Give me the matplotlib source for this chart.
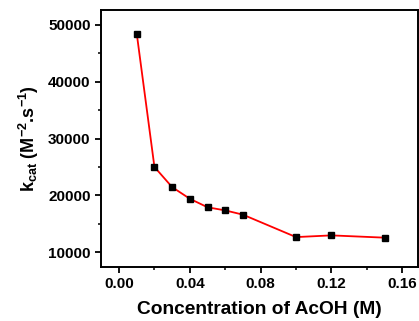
import matplotlib
matplotlib.use("Agg")
import matplotlib.pyplot as plt
from matplotlib.ticker import MultipleLocator

conc = [0.01, 0.02, 0.03, 0.04, 0.05, 0.06, 0.07, 0.10, 0.12, 0.15]
kcat = [48500, 25000, 21450, 19400, 17900, 17350, 16600, 12650, 12950, 12550]

x_ticks = [0.00, 0.04, 0.08, 0.12, 0.16]
y_ticks = [10000, 20000, 30000, 40000, 50000]

plt.rcParams["font.family"] = ["Liberation Sans", "DejaVu Sans"]
plt.rcParams["font.weight"] = "bold"
plt.rcParams["mathtext.fontset"] = "custom"
plt.rcParams["mathtext.rm"] = "Liberation Sans:bold"
plt.rcParams["mathtext.it"] = "Liberation Sans:bold"
plt.rcParams["mathtext.bf"] = "Liberation Sans:bold"
plt.rcParams["mathtext.default"] = "regular"

fig = plt.figure(figsize=(4.19, 3.21), dpi=100)
ax = fig.add_axes([0.241, 0.168, 0.757, 0.801])

ax.plot(conc, kcat, color="red", lw=1.3, marker="s", ms=4.5,
        mfc="black", mec="black", zorder=3)

ax.set_xlim(-0.0102, 0.169)
ax.set_ylim(7370, 52650)
ax.set_xticks(x_ticks)
ax.set_xticklabels([f"{v:.2f}" for v in x_ticks])
ax.set_yticks(y_ticks)
ax.xaxis.set_minor_locator(MultipleLocator(0.02))
ax.yaxis.set_minor_locator(MultipleLocator(5000))

ax.tick_params(which="major", direction="out", length=4, width=1.3,
               labelsize=11, top=False, right=False)
ax.tick_params(which="minor", direction="out", length=2.5, width=1.1,
               top=False, right=False)
for lab in ax.get_xticklabels() + ax.get_yticklabels():
    lab.set_fontweight("bold")
for s in ax.spines.values():
    s.set_linewidth(1.4)

ax.set_xlabel("Concentration of AcOH (M)", fontsize=13.8, fontweight="bold",
              labelpad=7)
ax.set_ylabel("k$_{cat}$ (M$^{-2}$.s$^{-1}$)",
              fontsize=13, fontweight="bold", labelpad=5)

fig.savefig("out.png", dpi=100)
